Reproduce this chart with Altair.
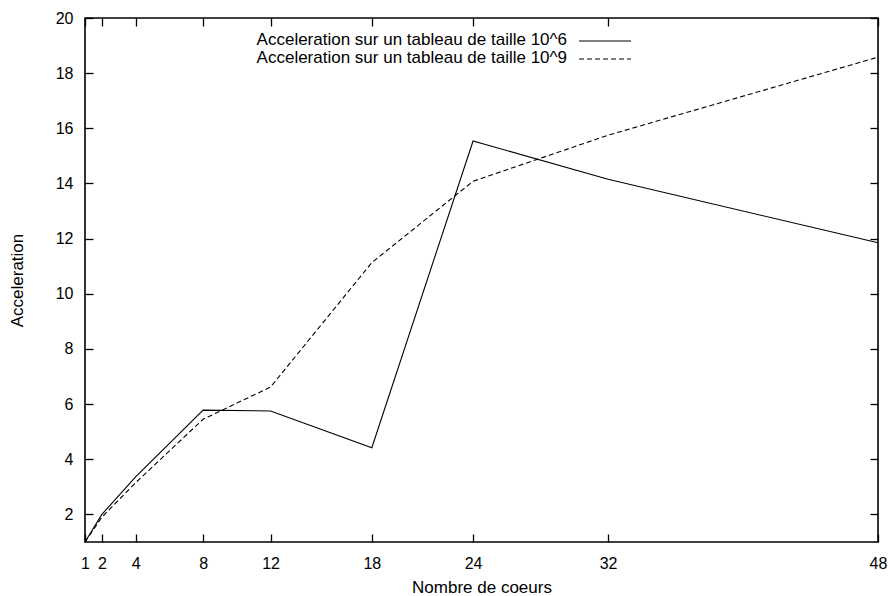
import altair as alt
import pandas as pd

cores = [1, 2, 4, 8, 12, 18, 24, 32, 48]
acc_1e6 = [1.0, 2.0, 3.36, 5.78, 5.75, 4.42, 15.54, 14.15, 11.85]
acc_1e9 = [1.0, 1.9, 3.15, 5.45, 6.62, 11.13, 14.08, 15.75, 18.58]
series_names = [
    "Acceleration sur un tableau de taille 10^6",
    "Acceleration sur un tableau de taille 10^9",
]
x_ticks = [1, 2, 4, 8, 12, 18, 24, 32, 48]
y_ticks = [2, 4, 6, 8, 10, 12, 14, 16, 18, 20]
x_title = "Nombre de coeurs"
y_title = "Acceleration"

df = pd.DataFrame({
    "cores": cores * 2,
    "acc": acc_1e6 + acc_1e9,
    "series": [series_names[0]] * len(cores) + [series_names[1]] * len(cores),
})

FONT = "Liberation Sans"
FS = 16
TFS = 17
LFS = 17
TICK = 8

xs = alt.Scale(domain=[1, 48], nice=False, zero=False)
ys = alt.Scale(domain=[1, 20], nice=False, zero=False)

base = alt.Chart(df)

# layer 1: solid line, with labelled axes (no ticks)
solid = base.transform_filter(alt.datum.series == series_names[0]).mark_line(
    color="black", strokeWidth=1.1
).encode(
    x=alt.X("cores:Q", scale=xs, axis=alt.Axis(
        orient="bottom", values=x_ticks, ticks=False, tickSize=0, domain=False, grid=False,
        labelFlush=False, labelOverlap=False, labelPadding=13, labelFont=FONT, labelFontSize=FS,
        labelColor="black", title=x_title, titleFont=FONT, titleFontSize=TFS,
        titleFontWeight="normal", titleColor="black", titlePadding=8)),
    y=alt.Y("acc:Q", scale=ys, axis=alt.Axis(
        orient="left", values=y_ticks, ticks=False, tickSize=0, domain=False, grid=False,
        labelFlush=False, labelOverlap=False, labelPadding=12, labelFont=FONT, labelFontSize=FS,
        labelColor="black", title=y_title, titleFont=FONT, titleFontSize=TFS,
        titleFontWeight="normal", titleColor="black", titlePadding=29)),
)

# layer 2: dashed line, with inward ticks on bottom and left
dashed = base.transform_filter(alt.datum.series == series_names[1]).mark_line(
    color="black", strokeWidth=1.1, strokeDash=[5, 3]
).encode(
    x=alt.X("cores:Q", scale=xs, axis=alt.Axis(
        orient="bottom", values=x_ticks, ticks=True, tickSize=TICK, tickColor="black",
        tickWidth=1.3, offset=-TICK, domain=False, grid=False, labels=False, title=None)),
    y=alt.Y("acc:Q", scale=ys, axis=alt.Axis(
        orient="left", values=y_ticks, ticks=True, tickSize=TICK, tickColor="black",
        tickWidth=1.3, offset=-TICK, domain=False, grid=False, labels=False, title=None)),
)

# layer 3: invisible, carrying mirrored inward ticks on top and right
mirror = base.mark_line(opacity=0).encode(
    x=alt.X("cores:Q", scale=xs, axis=alt.Axis(
        orient="top", values=x_ticks, ticks=True, tickSize=TICK, tickColor="black",
        tickWidth=1.3, offset=-TICK, domain=False, grid=False, labels=False, title=None)),
    y=alt.Y("acc:Q", scale=ys, axis=alt.Axis(
        orient="right", values=y_ticks, ticks=True, tickSize=TICK, tickColor="black",
        tickWidth=1.3, offset=-TICK, domain=False, grid=False, labels=False, title=None)),
    detail="series:N",
)

# manual legend (text right-aligned, sample line to the right)
leg_df = pd.DataFrame({"label": series_names})
leg_text1 = alt.Chart(leg_df).transform_filter(alt.datum.label == series_names[0]).mark_text(
    align="right", baseline="middle", font=FONT, fontSize=LFS, color="black"
).encode(x=alt.value(482), y=alt.value(22), text="label:N")
leg_text2 = alt.Chart(leg_df).transform_filter(alt.datum.label == series_names[1]).mark_text(
    align="right", baseline="middle", font=FONT, fontSize=LFS, color="black"
).encode(x=alt.value(482), y=alt.value(40), text="label:N")
leg_line1 = alt.Chart(leg_df).transform_filter(alt.datum.label == series_names[0]).mark_rule(
    color="black", strokeWidth=1.1
).encode(x=alt.value(494), x2=alt.value(546), y=alt.value(23))
leg_line2 = alt.Chart(leg_df).transform_filter(alt.datum.label == series_names[1]).mark_rule(
    color="black", strokeWidth=1.1, strokeDash=[5, 3]
).encode(x=alt.value(494), x2=alt.value(546), y=alt.value(41))

chart = alt.layer(
    solid, dashed, mirror, leg_text1, leg_text2, leg_line1, leg_line2
).resolve_axis(
    x="independent", y="independent"
).properties(
    width=793, height=524,
    autosize=alt.AutoSizeParams(type="none"),
    padding={"left": 85, "top": 18, "right": 14, "bottom": 54},
    background="white",
).configure_view(
    stroke="black", strokeWidth=1.6
)

chart.save("out.html", embed_options={"renderer": "svg", "actions": False})
